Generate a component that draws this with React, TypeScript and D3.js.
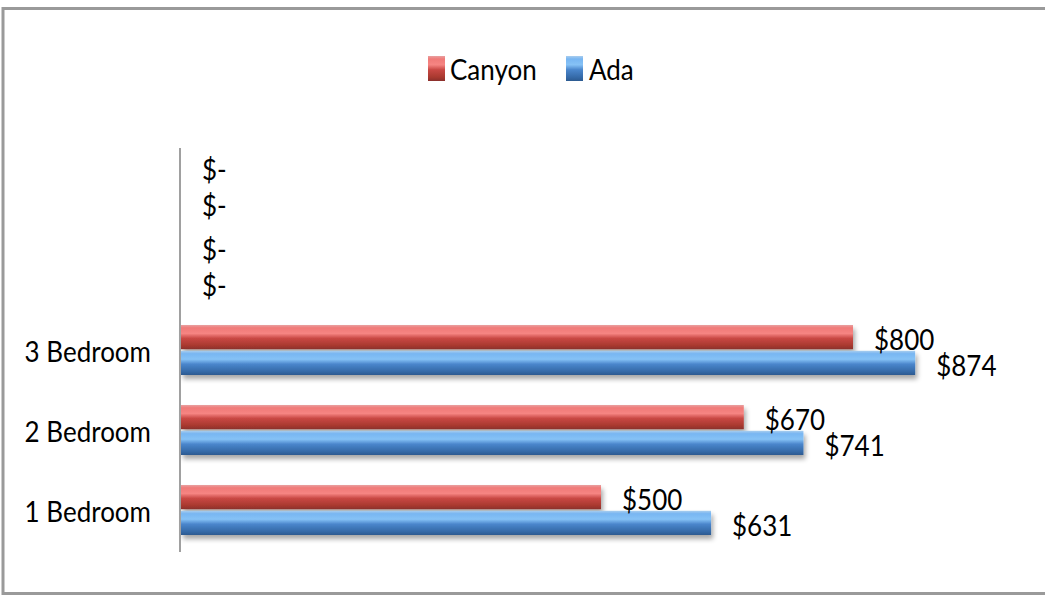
import React from "react";
import * as d3 from "d3";

const categories = ["1 Bedroom", "2 Bedroom", "3 Bedroom", "", ""];
const seriesNames = ["Canyon", "Ada"];
const canyonValues = [500, 670, 800, 0, 0];
const adaValues = [631, 741, 874, 0, 0];

const W = 1045;
const H = 603;
const FONT = "Lato, 'Open Sans', sans-serif";
const SY = 1.12; // reference text is slightly stretched vertically

const fmt = (v: number) => (v === 0 ? "$-" : "$" + d3.format(",")(v));

function T({
  x,
  y,
  children,
  anchor,
}: {
  x: number;
  y: number;
  children: React.ReactNode;
  anchor?: string;
}) {
  return (
    <text transform={`translate(${x},${y}) scale(1,${SY})`} textAnchor={anchor}>
      {children}
    </text>
  );
}

export default function App() {
  const x = d3.scaleLinear().domain([0, 1000]).range([181, 1021]);
  const idx = categories.map((_, i) => String(i));
  const y = d3
    .scaleBand<string>()
    .domain([...idx].reverse())
    .range([150, 550])
    .paddingInner(0.375)
    .paddingOuter(0.1875);
  const inner = d3
    .scaleBand<string>()
    .domain(seriesNames)
    .range([0, y.bandwidth()])
    .paddingInner(0.06);

  const series = [
    { name: "Canyon", values: canyonValues, grad: "gRed" },
    { name: "Ada", values: adaValues, grad: "gBlue" },
  ];

  return (
    <svg
      width={W}
      height={H}
      style={{ position: "absolute", left: 0, top: 0, background: "#fff" }}
    >
      <defs>
        <linearGradient id="gRed" x1="0" y1="0" x2="0" y2="1">
          <stop offset="0" stopColor="#e8a0a0" />
          <stop offset="0.12" stopColor="#f07a78" />
          <stop offset="0.35" stopColor="#f68582" />
          <stop offset="0.55" stopColor="#c94844" />
          <stop offset="0.85" stopColor="#a8392f" />
          <stop offset="1" stopColor="#8a2f2c" />
        </linearGradient>
        <linearGradient id="gBlue" x1="0" y1="0" x2="0" y2="1">
          <stop offset="0" stopColor="#a9cdee" />
          <stop offset="0.12" stopColor="#78b6f2" />
          <stop offset="0.35" stopColor="#86c2f6" />
          <stop offset="0.55" stopColor="#4a86cc" />
          <stop offset="0.85" stopColor="#356aa8" />
          <stop offset="1" stopColor="#2c5a90" />
        </linearGradient>
        <filter id="shadow" x="-5%" y="-50%" width="110%" height="250%">
          <feGaussianBlur in="SourceAlpha" stdDeviation="2.5" />
          <feOffset dx="2" dy="4" result="b" />
          <feComponentTransfer>
            <feFuncA type="linear" slope="0.35" />
          </feComponentTransfer>
          <feMerge>
            <feMergeNode />
            <feMergeNode in="SourceGraphic" />
          </feMerge>
        </filter>
      </defs>

      {/* chart border */}
      <rect
        x={3}
        y={8.5}
        width={W + 10}
        height={585}
        fill="none"
        stroke="#9a9a9a"
        strokeWidth={3}
      />

      {/* legend */}
      <g fontFamily={FONT} fontSize={26} fill="#000">
        <rect x={428} y={56} width={17} height={25} fill="url(#gRed)" />
        <T x={450} y={80}>Canyon</T>
        <rect x={566} y={56} width={17} height={25} fill="url(#gBlue)" />
        <T x={589} y={80}>Ada</T>
      </g>

      {/* bars */}
      {series.map((s) => (
        <g key={s.name} filter="url(#shadow)">
          {s.values.map((v, i) =>
            v > 0 ? (
              <rect
                key={i}
                x={x(0)}
                y={(y(String(i)) as number) + (inner(s.name) as number)}
                width={x(v) - x(0)}
                height={inner.bandwidth()}
                fill={`url(#${s.grad})`}
              />
            ) : null
          )}
        </g>
      ))}

      {/* axis line */}
      <line x1={180} x2={180} y1={148} y2={552} stroke="#a0a0a0" strokeWidth={2} />

      {/* category labels */}
      <g fontFamily={FONT} fontSize={26} fill="#000">
        {categories.map((c, i) => (
          <T
            key={i}
            anchor="end"
            x={151}
            y={(y(String(i)) as number) + y.bandwidth() / 2 + 12}
          >
            {c}
          </T>
        ))}
      </g>

      {/* data labels */}
      <g fontFamily={FONT} fontSize={26} fill="#000">
        {series.map((s) =>
          s.values.map((v, i) => (
            <T
              key={s.name + i}
              x={x(v) + 21}
              y={
                (y(String(i)) as number) +
                (inner(s.name) as number) +
                inner.bandwidth() / 2 +
                13 -
                (v === 0 && s.name === "Canyon" ? 10 : 0)
              }
            >
              {fmt(v)}
            </T>
          ))
        )}
      </g>
    </svg>
  );
}
